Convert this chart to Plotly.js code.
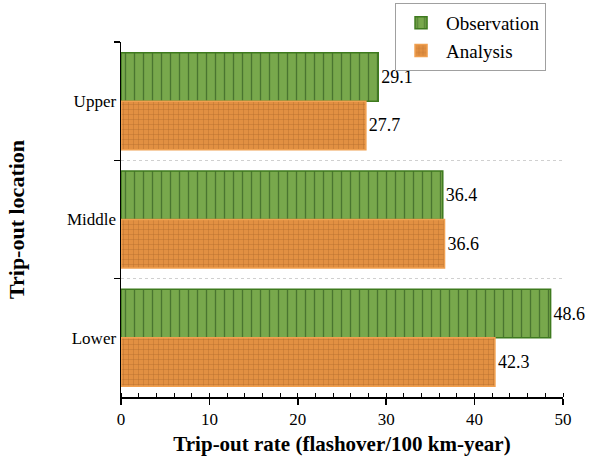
<!DOCTYPE html>
<html>
<head>
<meta charset="utf-8">
<script src="https://cdn.plot.ly/plotly-3.0.1.min.js"></script>
<style>html,body{margin:0;padding:0;background:#fff;}#chart{width:589px;height:466px;}</style>
</head>
<body>
<div id="chart"></div>
<script>
const categories = ['Upper', 'Middle', 'Lower'];
const observation = [29.1, 36.4, 48.6];
const analysis = [27.7, 36.6, 42.3];
const seriesNames = ['Observation', 'Analysis'];
const xTicks = [0, 10, 20, 30, 40, 50];

const font = 'Liberation Serif';

const traces = [
  {
    type: 'bar', orientation: 'h', name: seriesNames[0],
    y: categories, x: observation,
    text: observation.map(v => v.toFixed(1)), textposition: 'outside',
    textfont: {family: font, size: 18, color: '#000'},
    cliponaxis: false,
    marker: {
      color: '#72a048',
      line: {color: '#3e7a1e', width: 1.5},
      pattern: {shape: '|', fgcolor: '#4a7530', bgcolor: '#78a84c', size: 9, solidity: 0.15, fillmode: 'replace'}
    }
  },
  {
    type: 'bar', orientation: 'h', name: seriesNames[1],
    y: categories, x: analysis,
    text: analysis.map(v => v.toFixed(1)), textposition: 'outside',
    textfont: {family: font, size: 18, color: '#000'},
    cliponaxis: false,
    marker: {
      color: '#dc8738',
      line: {color: '#f0a050', width: 1.5},
      pattern: {shape: '+', fgcolor: '#b06a2c', bgcolor: '#e29042', size: 5, solidity: 0.15, fillmode: 'replace'}
    }
  }
];

const layout = {
  width: 589, height: 466,
  margin: {l: 121, r: 26, t: 42, b: 69, autoexpand: false},
  paper_bgcolor: '#fff', plot_bgcolor: '#fff',
  barmode: 'group', bargap: 0.18, bargroupgap: 0,
  font: {family: font, color: '#000', size: 17},
  showlegend: true,
  legend: {
    x: 0.62, y: 1.11, xanchor: 'left', yanchor: 'top',
    bordercolor: '#a0a0a0', borderwidth: 1, bgcolor: '#fff',
    font: {family: font, size: 19, color: '#000'},
    tracegroupgap: 0, itemwidth: 40
  },
  xaxis: {
    range: [0, 50], tickvals: xTicks, ticktext: xTicks.map(String),
    showline: true, linecolor: '#000', linewidth: 1.5,
    ticks: 'outside', ticklen: 6, tickwidth: 1.5, tickcolor: '#000',
    minor: {ticks: 'inside', dtick: 2, ticklen: 4, tickwidth: 1, tickcolor: '#000', showgrid: false},
    showgrid: false, zeroline: false, automargin: false,
    tickfont: {family: font, size: 17, color: '#000'},
    title: {text: '<b>Trip-out rate (flashover/100 km-year)</b>', font: {family: font, size: 21, color: '#000'}, standoff: 8}
  },
  yaxis: {
    type: 'category', autorange: 'reversed',
    tickson: 'boundaries',
    showline: true, linecolor: '#000', linewidth: 1.5,
    ticks: 'outside', ticklen: 6, tickwidth: 1.5, tickcolor: '#000',
    showgrid: true, gridcolor: '#d0d0d0', griddash: 'dot', gridwidth: 1,
    zeroline: false, automargin: false,
    tickfont: {family: font, size: 17, color: '#000'},
    title: {text: '<b>Trip-out location</b>', font: {family: font, size: 22, color: '#000'}, standoff: 36}
  }
};

Plotly.newPlot('chart', traces, layout, {displayModeBar: false, staticPlot: true});
</script>
</body>
</html>
